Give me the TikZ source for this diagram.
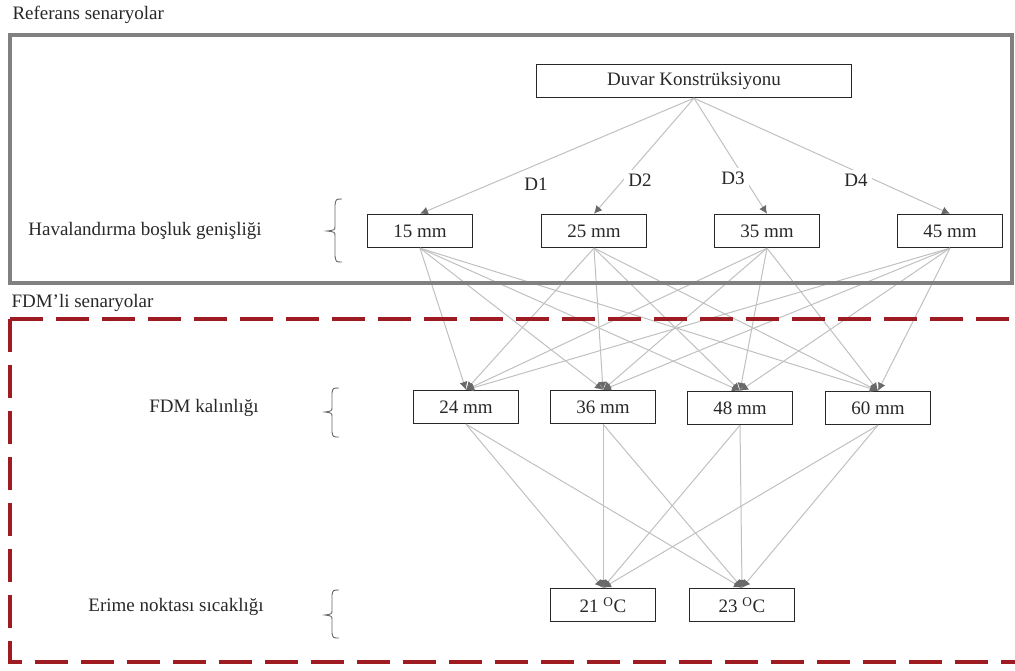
\documentclass[tikz,border=0pt]{standalone}
\usepackage{fontspec}
\setmainfont{Liberation Serif}
\usepackage{tikz}
\usetikzlibrary{arrows.meta}

\definecolor{framegray}{RGB}{128,128,128}
\definecolor{dashred}{RGB}{158,27,34}
\definecolor{linkgray}{RGB}{192,192,192}
\definecolor{tipgray}{RGB}{105,105,105}
\definecolor{inkgray}{RGB}{40,40,40}

\begin{document}
\begin{tikzpicture}[x=1pt, y=-1pt, font=\fontsize{19}{22}\selectfont, text=inkgray,
    box/.style={draw=inkgray, line width=1.3pt, fill=white, minimum width=105pt, minimum height=33pt, inner sep=0pt},
    link/.style={linkgray, line width=1pt, -{Latex[length=8pt, width=8pt, color=tipgray]}},
    brace/.style={inkgray!70, line width=0.9pt}]
        \clip (0,0) rectangle (1015,670);

        % titles
        \node[anchor=base west] (reftitle) at (9,19) {Referans senaryolar};
        \node[anchor=base west] (fdmtitle) at (8,307) {FDM’li senaryolar};

        % levels
        \node[box, minimum width=315pt] (duvar) at (694,81) {Duvar Konstrüksiyonu};
        \node[box] (h15) at (420,231) {15 mm};
        \node[box] (h25) at (594,231) {25 mm};
        \node[box] (h35) at (767,231) {35 mm};
        \node[box] (h45) at (950,231) {45 mm};
        \node[box] (f24) at (466,407) {24 mm};
        \node[box] (f36) at (603,407) {36 mm};
        \node[box] (f48) at (740,408) {48 mm};
        \node[box] (f60) at (878,408) {60 mm};
        \node[box] (e21) at (603,605) {21 \textsuperscript{O}C};
        \node[box] (e23) at (742,605) {23 \textsuperscript{O}C};

        % side labels
        \node (havlbl) at (145,231) {Havalandırma boşluk genişliği};
        \node (fdmlbl) at (204,408) {FDM kalınlığı};
        \node (erilbl) at (176,607) {Erime noktası sıcaklığı};
        \draw[brace] (342,199) .. controls (336,199) .. (335,205) -- (335,226) .. controls (335,230) .. (327,231) .. controls (335,232) .. (335,236) -- (335,256) .. controls (336,262) .. (342,262);
        \draw[brace] (339,388) .. controls (333,388) .. (332,393) -- (332,407) .. controls (332,411) .. (325,412) .. controls (332,413) .. (332,417) -- (332,432) .. controls (333,437) .. (339,437);
        \draw[brace] (339,590) .. controls (333,590) .. (332,595) -- (332,610) .. controls (332,614) .. (325,615) .. controls (332,616) .. (332,620) -- (332,633) .. controls (333,638) .. (339,638);

        % connectors
        \foreach \h in {h15,h25,h35,h45}
            \draw[link] (duvar.south) -- (\h.north);
        \foreach \h in {h15,h25,h35,h45}
            \foreach \f in {f24,f36,f48,f60}
                \draw[link] (\h.south) -- (\f.north);
        \foreach \f in {f24,f36,f48,f60}
            \foreach \e in {e21,e23}
                \draw[link] (\f.south) -- (\e.north);

        \node[fill=white, inner sep=4pt] (d1) at (536,184) {D1};
        \node[fill=white, inner sep=4pt] (d2) at (640,180) {D2};
        \node[fill=white, inner sep=4pt] (d3) at (733,178) {D3};
        \node[fill=white, inner sep=4pt] (d4) at (856,180) {D4};

        % frames
        \draw[framegray, line width=4pt] (10,35) rectangle (1012,283);
        \draw[dashred, line width=4pt, dash pattern=on 33pt off 13pt] (10,319) -- (1040,319);
        \draw[dashred, line width=4pt, dash pattern=on 33pt off 13pt] (10,319) -- (10,662) -- (1040,662);
    \end{tikzpicture}
\end{document}
